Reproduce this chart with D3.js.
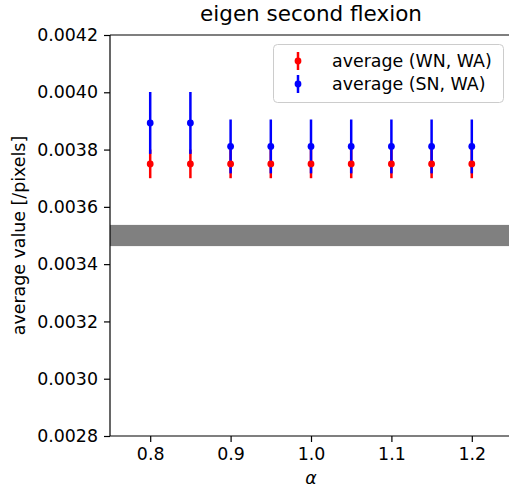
<!DOCTYPE html>
<html>
<head>
<meta charset="utf-8">
<script src="https://cdn.jsdelivr.net/npm/d3@7"></script>
<style>
  body { margin: 0; background: #fff; overflow: hidden; }
  text { font-family: "DejaVu Sans", sans-serif; fill: #000; }
</style>
</head>
<body>
<div id="chart"></div>
<script>
// data
var alphas = [0.8, 0.85, 0.9, 0.95, 1.0, 1.05, 1.1, 1.15, 1.2];
var wn_mean = [0.00375, 0.00375, 0.00375, 0.00375, 0.00375, 0.00375, 0.00375, 0.00375, 0.00375];
var wn_err = [0.00005, 0.00005, 0.00005, 0.00005, 0.00005, 0.00005, 0.00005, 0.00005, 0.00005];
var sn_mean = [0.003893, 0.003893, 0.003811, 0.003811, 0.003811, 0.003811, 0.003811, 0.003811, 0.003811];
var sn_err = [0.000108, 0.000108, 0.000094, 0.000094, 0.000094, 0.000094, 0.000094, 0.000094, 0.000094];
var band = [0.003463, 0.003537];
var x_ticks = [0.8, 0.9, 1.0, 1.1, 1.2];
var y_ticks = [0.0028, 0.0030, 0.0032, 0.0034, 0.0036, 0.0038, 0.0040, 0.0042];
var series_names = ['average (WN, WA)', 'average (SN, WA)'];
var series_colors = ['#ff0000', '#0000ff'];

//创建SVG元素
var chart_width = 509;
var chart_height = 489;
var left = 110, right = 512, top_y = 35, bottom = 436;

var svg = d3.select('#chart')
    .append('svg')
    .attr('width', chart_width)
    .attr('height', chart_height)

var x_scale = d3.scaleLinear()
    .domain([0.75, 1.25])
    .range([left, right])

var y_scale = d3.scaleLinear()
    .domain([0.0028, 0.0042])
    .range([bottom, top_y])

// grey band
svg.append('rect')
    .attr('x', left)
    .attr('y', y_scale(band[1]))
    .attr('width', right - left)
    .attr('height', y_scale(band[0]) - y_scale(band[1]))
    .attr('fill', '#808080')

var series = [
    { mean: wn_mean, err: wn_err, color: series_colors[0] },
    { mean: sn_mean, err: sn_err, color: series_colors[1] }
];

// error bars first, then the dots
series.forEach(function (s) {
    svg.selectAll(null)
        .data(alphas)
        .enter()
        .append('line')
        .attr('x1', function (d) { return x_scale(d); })
        .attr('x2', function (d) { return x_scale(d); })
        .attr('y1', function (d, i) { return y_scale(s.mean[i] - s.err[i]); })
        .attr('y2', function (d, i) { return y_scale(s.mean[i] + s.err[i]); })
        .attr('stroke', s.color)
        .attr('stroke-width', 2.5)
})
series.forEach(function (s) {
    svg.selectAll(null)
        .data(alphas)
        .enter()
        .append('circle')
        .attr('cx', function (d) { return x_scale(d); })
        .attr('cy', function (d, i) { return y_scale(s.mean[i]); })
        .attr('r', 3.4)
        .attr('fill', s.color)
})

// axes
var y_axis = d3.axisLeft(y_scale)
    .tickValues(y_ticks)
    .tickFormat(d3.format('.4f'))
    .tickSize(6)
    .tickPadding(6)
var x_axis = d3.axisBottom(x_scale)
    .tickValues(x_ticks)
    .tickFormat(d3.format('.1f'))
    .tickSize(6)
    .tickPadding(6)

var gy = svg.append('g')
    .attr('transform', 'translate(' + left + ',0)')
    .call(y_axis)
var gx = svg.append('g')
    .attr('transform', 'translate(0,' + bottom + ')')
    .call(x_axis)

svg.selectAll('.domain').remove()
svg.selectAll('.tick line').attr('stroke', '#000').attr('stroke-width', 1.2)
svg.selectAll('.tick text')
    .attr('font-size', '17.4px')
    .attr('font-family', 'DejaVu Sans')
    .attr('fill', '#000')

// spines
svg.append('line').attr('x1', left).attr('x2', left).attr('y1', top_y).attr('y2', bottom)
    .attr('stroke', '#000').attr('stroke-width', 1.2)
svg.append('line').attr('x1', left).attr('x2', right).attr('y1', bottom).attr('y2', bottom)
    .attr('stroke', '#000').attr('stroke-width', 1.2)
svg.append('line').attr('x1', left).attr('x2', right).attr('y1', top_y).attr('y2', top_y)
    .attr('stroke', '#000').attr('stroke-width', 1.2)

// title and labels
svg.append('text')
    .text('eigen second flexion')
    .attr('x', (left + right) / 2)
    .attr('y', 21)
    .attr('text-anchor', 'middle')
    .attr('font-size', '21.5px')

svg.append('text')
    .text('α')
    .attr('x', (left + right) / 2)
    .attr('y', 484)
    .attr('text-anchor', 'middle')
    .attr('font-size', '17.4px')
    .attr('font-style', 'italic')

svg.append('text')
    .text('average value [/pixels]')
    .attr('transform', 'translate(25,' + (top_y + bottom) / 2 + ') rotate(-90)')
    .attr('text-anchor', 'middle')
    .attr('font-size', '17.4px')

// legend
var legend = svg.append('g')
legend.append('rect')
    .attr('x', 273.5)
    .attr('y', 44.5)
    .attr('width', 230)
    .attr('height', 58)
    .attr('rx', 4)
    .attr('fill', '#fff')
    .attr('fill-opacity', 0.8)
    .attr('stroke', '#cccccc')
    .attr('stroke-width', 1)

var legend_rows = legend.selectAll('g.row')
    .data(series_names)
    .enter()
    .append('g')
    .attr('class', 'row')
    .attr('transform', function (d, i) {
        return 'translate(298,' + (61 + i * 23) + ')';
    })
legend_rows.append('line')
    .attr('y1', -9).attr('y2', 9)
    .attr('stroke', function (d, i) { return series_colors[i]; })
    .attr('stroke-width', 2.5)
legend_rows.append('circle')
    .attr('r', 3.4)
    .attr('fill', function (d, i) { return series_colors[i]; })
legend_rows.append('text')
    .text(function (d) { return d; })
    .attr('x', 34)
    .attr('y', 6)
    .attr('font-size', '17.4px')
</script>
</body>
</html>
